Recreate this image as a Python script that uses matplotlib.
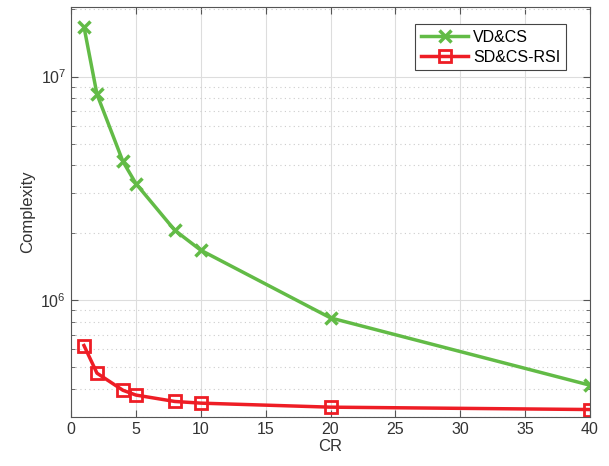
import matplotlib.pyplot as plt
from matplotlib.ticker import LogLocator, NullFormatter

# 압축률(CR)에 따른 복잡도
cr = [1, 2, 4, 5, 8, 10, 20, 40]
vd_cs = [1.67e7, 8.34e6, 4.17e6, 3.32e6, 2.05e6, 1.67e6, 8.31e5, 4.15e5]
sd_cs_rsi = [6.25e5, 4.70e5, 3.94e5, 3.75e5, 3.51e5, 3.45e5, 3.31e5, 3.23e5]

plt.rcParams['font.family'] = ['Liberation Sans', 'DejaVu Sans']

fig = plt.figure(figsize=(6.09, 4.66), dpi=100)
ax = fig.add_axes([0.1166, 0.1058, 0.8522, 0.8792])

ax.plot(cr, vd_cs, color='#62BB46', lw=2.5, marker='x', ms=8, mew=2.5,
        label='VD&CS')
ax.plot(cr, sd_cs_rsi, color='#EE1D25', lw=2.5, marker='s', ms=8, mew=2,
        mfc='none', label='SD&CS-RSI')

ax.set_yscale('log')
ax.set_xlim(0, 40)
ax.set_ylim(3.0e5, 2.05e7)
ax.set_xticks(range(0, 41, 5))
ax.yaxis.set_minor_locator(LogLocator(base=10, subs=range(2, 10)))
ax.yaxis.set_minor_formatter(NullFormatter())

ax.grid(True, which='major', color='#DDDDDD', lw=0.8)
ax.grid(True, which='minor', axis='y', color='#CCCCCC', lw=0.8, ls=(0, (1, 3)))
ax.set_axisbelow(True)

for s in ax.spines.values():
    s.set_color('#555555')
    s.set_linewidth(0.8)
ax.tick_params(which='both', direction='in', colors='#555555', labelcolor='#333333',
               labelsize=11.5, top=True, right=True)
ax.tick_params(which='major', length=5)
ax.tick_params(which='minor', length=3)

ax.set_xlabel('CR', fontsize=12, color='#333333', labelpad=2)
ax.set_ylabel('Complexity', fontsize=12, color='#333333')

leg = ax.legend(loc='upper right', bbox_to_anchor=(0.954, 0.958), fontsize=11.5,
                fancybox=False, framealpha=1, edgecolor='#444444',
                handlelength=3, handletextpad=0.3, borderpad=0.35,
                borderaxespad=0, labelspacing=0.3)
leg.get_frame().set_linewidth(0.8)

plt.savefig('out.png', dpi=100)
